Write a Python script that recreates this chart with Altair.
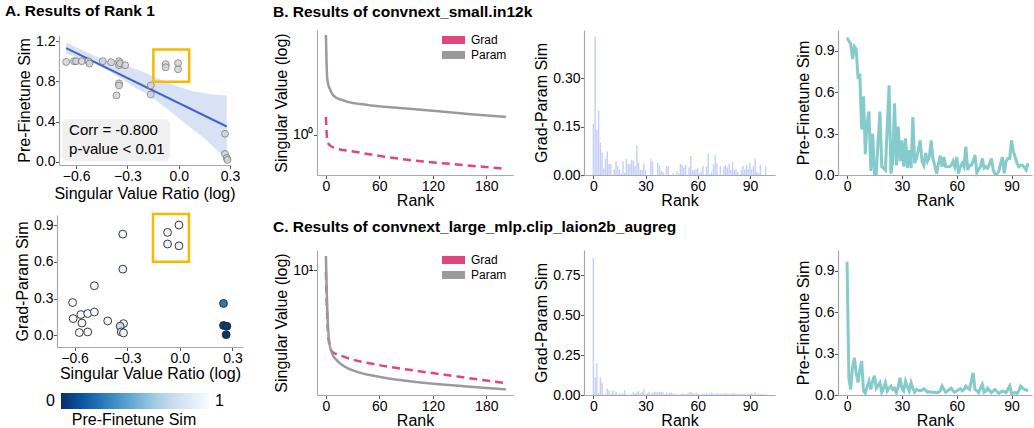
import altair as alt
import pandas as pd

FONT = "Liberation Sans"
PINK = "#e0467d"
GRAY = "#9a9a9a"
BAR = "#c4cefa"
TEAL = "#7ec8c8"
YELLOW = "#f5b900"
REG = "#3d66c9"
BAND = "#d5def3"
W, H = 1034, 428

# matplotlib "Blues", reversed so that 0 is dark and 1 is white
blues = ["#f7fbff", "#deebf7", "#c6dbef", "#9ecae1", "#6baed6",
         "#4292c6", "#2171b5", "#08519c", "#08306b"]
cmap_colors = blues[::-1]
cmap_stops = [0, 0.125, 0.25, 0.375, 0.5, 0.625, 0.75, 0.875, 1.0]

series_names = ["Grad", "Param"]
series_colors = [PINK, GRAY]

# ---------------- Panel A: rank-1 results ----------------
a_top_ratio = [-0.658, -0.612, -0.600, -0.567, -0.528, -0.522, -0.444, -0.395,
               -0.349, -0.349, -0.343, -0.313, -0.349, -0.349, -0.364, -0.163,
               -0.163, -0.076, -0.076, -0.004, -0.004, 0.271, 0.271, 0.281, 0.285]
a_top_pre = [0.993, 1.0, 1.0, 1.0, 1.0, 0.977, 1.0, 0.99,
             1.0, 0.96, 0.98, 0.96, 0.78, 0.76, 0.66, 0.76,
             0.67, 0.97, 0.94, 0.98, 0.92, 0.28, 0.08, 0.04, 0.02]

reg_ratio = [-0.658, 0.281]
reg_pre = [1.13, 0.352]
band_ratio = [-0.658, -0.46, -0.265, -0.148, -0.07, 0.047, 0.125, 0.281]
band_hi = [1.19, 1.03, 0.93, 0.85, 0.79, 0.72, 0.69, 0.66]
band_lo = [1.075, 0.95, 0.75, 0.63, 0.53, 0.37, 0.27, 0.02]

a_bot_ratio = [-0.611, -0.608, -0.564, -0.558, -0.573, -0.525, -0.525, -0.487,
               -0.487, -0.411, -0.325, -0.325, -0.321, -0.340, -0.334, -0.321,
               -0.070, -0.005, -0.070, -0.005, 0.249, 0.249, 0.268, 0.264]
a_bot_gp = [0.267, 0.136, 0.169, 0.100, 0.022, 0.177, 0.027, 0.190,
            0.404, 0.117, 0.826, 0.540, 0.095, 0.074, 0.027, 0.019,
            0.840, 0.900, 0.745, 0.730, 0.260, 0.080, 0.074, 0.005]
a_bot_pre = [1.0, 0.99, 1.0, 0.98, 1.0, 1.0, 0.99, 1.0,
             0.98, 0.97, 0.96, 0.92, 0.98, 0.76, 0.85, 0.96,
             0.97, 0.98, 0.94, 0.92, 0.28, 0.08, 0.04, 0.02]

stat_lines = ["Corr = -0.800", "p-value < 0.01"]

# ---------------- Panels B / C ----------------
b_param_rank = [0, 1, 2, 5, 9, 21, 47, 85, 123, 160, 202]
b_param_sv = [4.64, 2.71, 2.27, 1.995, 1.82, 1.69, 1.585, 1.51, 1.445, 1.38, 1.32]
b_grad_rank = [0, 1, 2, 4, 9, 32, 66, 104, 142, 202]
b_grad_sv = [1.32, 1.0, 0.90, 0.858, 0.823, 0.774, 0.717, 0.67, 0.64, 0.594]

c_param_rank = [0, 1, 2, 4, 7, 12, 20, 35, 60, 100, 150, 202]
c_param_sv = [11.96, 7.42, 5.27, 3.92, 3.44, 3.16, 2.93, 2.72, 2.55, 2.39, 2.27, 2.17]
c_grad_rank = [0, 1, 2, 4, 7, 20, 60, 100, 150, 202]
c_grad_sv = [9.79, 6.53, 4.84, 3.83, 3.52, 3.30, 2.96, 2.76, 2.55, 2.35]

ranks = list(range(100))

b_gp = [0.158, 0.43, 0.14, 0.20, 0.10, 0.07, 0.02, 0.05, 0.073, 0.034,
        0.034, 0.0, 0.018, 0.043, 0.028, 0.018, 0.005, 0.043, 0.007, 0.05,
        0.034, 0.033, 0.047, 0.045, 0.028, 0.092, 0.039, 0.016, 0.016, 0.036,
        0.016, 0.0, 0.0, 0.05, 0.042, 0.0, 0.0, 0.038, 0.029, 0.013,
        0.01, 0.0, 0.029, 0.027, 0.0, 0.0, 0.008, 0.0, 0.012, 0.005,
        0.035, 0.032, 0.023, 0.031, 0.0, 0.023, 0.059, 0.016, 0.015, 0.018,
        0.023, 0.005, 0.01, 0.028, 0.0, 0.026, 0.067, 0.003, 0.01, 0.033,
        0.062, 0.036, 0.0, 0.028, 0.0, 0.026, 0.031, 0.024, 0.036, 0.016,
        0.041, 0.016, 0.018, 0.01, 0.0, 0.016, 0.028, 0.018, 0.032, 0.018,
        0.038, 0.018, 0.028, 0.05, 0.01, 0.005, 0.031, 0.0, 0.0, 0.027]

c_gp = [0.86, 0.11, 0.20, 0.01, 0.11, 0.077, 0.004, 0.004, 0.04, 0.03,
        0.01, 0.03, 0.01, 0.02, 0.005, 0.01, 0.005, 0.01, 0.03, 0.005,
        0.0, 0.0, 0.005, 0.02, 0.01, 0.02, 0.025, 0.01, 0.02, 0.04,
        0.005, 0.01, 0.02, 0.005, 0.015, 0.02, 0.02, 0.015, 0.02, 0.02,
        0.018, 0.005, 0.015, 0.01, 0.015, 0.015, 0.005, 0.01, 0.005, 0.003,
        0.005, 0.01, 0.01, 0.005, 0.01, 0.015, 0.02, 0.012, 0.005, 0.015,
        0.01, 0.005, 0.003, 0.01, 0.008, 0.01, 0.005, 0.01, 0.015, 0.008,
        0.005, 0.012, 0.008, 0.01, 0.006, 0.01, 0.012, 0.008, 0.01, 0.007,
        0.012, 0.01, 0.008, 0.006, 0.01, 0.005, 0.008, 0.01, 0.005, 0.008,
        0.006, 0.01, 0.005, 0.015, 0.005, 0.008, 0.004, 0.006, 0.005, 0.007]

b_pre = [0.995, 0.97, 0.95, 0.84, 0.93, 0.91, 0.71, 0.72, 0.33, 0.57,
         0.15, 0.38, 0.46, 0.03, 0.30, 0.01, 0.01, 0.25, 0.46, 0.06,
         0.05, 0.036, 0.35, 0.65, 0.01, 0.10, 0.52, 0.07, 0.35, 0.10,
         0.25, 0.06, 0.265, 0.05, 0.18, 0.05, 0.42, 0.085, 0.12, 0.18,
         0.25, 0.10, 0.07, 0.16, 0.10, 0.13, 0.25, 0.12, 0.07, 0.01,
         0.08, 0.14, 0.06, 0.13, 0.06, 0.06, 0.06, 0.07, 0.10, 0.06,
         0.13, 0.01, 0.06, 0.085, 0.06, 0.205, 0.036, 0.07, 0.07, 0.10,
         0.145, 0.017, 0.04, 0.06, 0.12, 0.05, 0.06, 0.05, 0.08, 0.12,
         0.036, 0.007, 0.007, 0.024, 0.08, 0.13, 0.012, 0.10, 0.12, 0.12,
         0.25, 0.17, 0.13, 0.085, 0.06, 0.07, 0.07, 0.055, 0.036, 0.085]

c_pre = [0.965, 0.12, 0.04, 0.20, 0.27, 0.16, 0.09, 0.18, 0.245, 0.03,
         0.012, 0.06, 0.10, 0.04, 0.10, 0.14, 0.05, 0.07, 0.09, 0.02,
         0.05, 0.09, 0.03, 0.05, 0.065, 0.04, 0.05, 0.017, 0.06, 0.125,
         0.05, 0.03, 0.10, 0.06, 0.03, 0.09, 0.05, 0.02, 0.04, 0.035,
         0.03, 0.035, 0.045, 0.035, 0.02, 0.025, 0.02, 0.02, 0.02, 0.017,
         0.02, 0.03, 0.065, 0.04, 0.02, 0.03, 0.04, 0.05, 0.03, 0.02,
         0.03, 0.04, 0.045, 0.03, 0.04, 0.065, 0.05, 0.04, 0.10, 0.16,
         0.04, 0.03, 0.017, 0.05, 0.077, 0.02, 0.03, 0.05, 0.03, 0.017,
         0.03, 0.04, 0.025, 0.012, 0.02, 0.03, 0.025, 0.017, 0.04, 0.065,
         0.012, 0.015, 0.017, 0.012, 0.03, 0.065, 0.05, 0.04, 0.035, 0.03]

one = pd.DataFrame({"k": [0]})


# Each panel owns its own x/y scales; the scale ranges place the panel on the page
# and the axis offsets pin the spines to the panel's left and bottom edges.
def make_x(xr, bottom, domain, ticks, title, fmt, stype="linear", title_pad=3):
    def enc(field):
        return alt.X(field, type="quantitative",
                     scale=alt.Scale(type=stype, domain=domain, range=list(xr), nice=False, zero=False),
                     axis=alt.Axis(values=ticks, title=title, format=fmt, orient="bottom",
                                   offset=bottom - H, titlePadding=title_pad))
    return enc


def make_y(yr, left, domain, ticks, title, fmt, stype="linear", label_expr=None):
    kw = dict(values=ticks, title=title, format=fmt, orient="left", offset=-left)
    if label_expr is not None:
        kw["labelExpr"] = label_expr
    def enc(field):
        return alt.Y(field, type="quantitative",
                     scale=alt.Scale(type=stype, domain=domain, range=list(yr), nice=False, zero=False),
                     axis=alt.Axis(**kw))
    return enc


def heading(text, x, y):
    return alt.Chart(one).mark_text(align="left", baseline="middle", fontSize=15.5,
                                    fontWeight="bold", color="black").encode(
        x=alt.value(x), y=alt.value(y), text=alt.value(text))


def highlight(xs, ys, X, Y):
    df = pd.DataFrame({"x1": [xs[0]], "x2": [xs[1]], "y1": [ys[0]], "y2": [ys[1]]})
    return alt.Chart(df).mark_rect(fillOpacity=0, stroke=YELLOW, strokeWidth=2.5).encode(
        x=X("x1"), x2="x2:Q", y=Y("y1"), y2="y2:Q")


# ----- A top: pre-finetune similarity vs singular value ratio -----
AX = make_x((59, 230), 165, [-0.70, 0.30], [-0.6, -0.3, 0.0, 0.3], "Singular Value Ratio (log)", ".1f",
            title_pad=2)
AY = make_y((165, 35), 59, [-0.03, 1.26], [0.0, 0.4, 0.8, 1.2], "Pre-Finetune Sim", ".1f")

band_df = pd.DataFrame({"ratio": band_ratio, "lo": band_lo, "hi": band_hi})
reg_df = pd.DataFrame({"ratio": reg_ratio, "pre": reg_pre})
top_df = pd.DataFrame({"ratio": a_top_ratio, "pre": a_top_pre})
stat_box = pd.DataFrame({"x1": [-0.684], "x2": [-0.05], "y1": [0.007], "y2": [0.424]})
stat_txt = pd.DataFrame({"ratio": [-0.641, -0.641], "pre": [0.3125, 0.132], "t": stat_lines})

a_top = alt.layer(
    alt.Chart(band_df).mark_area(color=BAND, opacity=0.9, interpolate="monotone").encode(
        x=AX("ratio"), y=AY("lo"), y2="hi:Q"),
    alt.Chart(reg_df).mark_line(color=REG, strokeWidth=2).encode(x=AX("ratio"), y=AY("pre")),
    alt.Chart(stat_box).mark_rect(cornerRadius=6, fill="#eeeeee", opacity=0.9).encode(
        x=AX("x1"), x2="x2:Q", y=AY("y1"), y2="y2:Q"),
    alt.Chart(top_df).mark_circle(size=48, fill="#d2d2d2", stroke="#7a7a7a",
                                  strokeWidth=1, opacity=0.8).encode(x=AX("ratio"), y=AY("pre")),
    alt.Chart(stat_txt).mark_text(align="left", baseline="middle", fontSize=15, color="black").encode(
        x=AX("ratio"), y=AY("pre"), text="t:N"),
    highlight([-0.148, 0.061], [0.796, 1.115], AX, AY),
)

# ----- A bottom: grad-param similarity coloured by pre-finetune similarity -----
BX = make_x((57, 243), 347, [-0.70, 0.36], [-0.6, -0.3, 0.0, 0.3], "Singular Value Ratio (log)", ".1f",
            title_pad=0)
BY = make_y((347, 215), 57, [-0.096, 0.982], [0.0, 0.3, 0.6, 0.9], "Grad-Param Sim", ".1f")

bot_df = pd.DataFrame({"ratio": a_bot_ratio, "gp": a_bot_gp, "pre": a_bot_pre})
a_bot = alt.layer(
    alt.Chart(bot_df).mark_circle(size=62, stroke="#222222", strokeWidth=0.9, opacity=1).encode(
        x=BX("ratio"), y=BY("gp"),
        fill=alt.Fill("pre:Q", scale=alt.Scale(domain=cmap_stops, range=cmap_colors), legend=None)),
    highlight([-0.153, 0.052], [0.60, 0.99], BX, BY),
)

# ----- colour bar -----
cb_df = pd.DataFrame({"lo": [0.0], "hi": [1.0]})
cb_x = alt.Scale(domain=[0, 1], range=[61, 209])
grad = alt.Gradient(gradient="linear", x1=0, x2=1, y1=0, y2=0,
                    stops=[alt.GradientStop(color=c, offset=o) for c, o in zip(cmap_colors, cmap_stops)])
cbar = alt.layer(
    alt.Chart(cb_df).mark_rect(color=grad).encode(
        x=alt.X("lo:Q", scale=cb_x, axis=None), x2="hi:Q", y=alt.value(393), y2=alt.value(409)),
    alt.Chart(cb_df).mark_text(align="right", baseline="middle", dx=-6, fontSize=16, color="black").encode(
        x=alt.X("lo:Q", scale=cb_x, axis=None), y=alt.value(401), text=alt.value("0")),
    alt.Chart(cb_df).mark_text(align="left", baseline="middle", dx=6, fontSize=16, color="black").encode(
        x=alt.X("hi:Q", scale=cb_x, axis=None), y=alt.value(401), text=alt.value("1")),
    alt.Chart(one).mark_text(align="center", baseline="middle", fontSize=16, color="black").encode(
        x=alt.value(134), y=alt.value(420), text=alt.value("Pre-Finetune Sim")),
)

series_color = alt.Scale(domain=series_names, range=series_colors)


# ----- singular value spectra -----
def spectrum(grad_rank, grad_sv, param_rank, param_sv, top, domain, tick, label):
    bottom = top + 145
    X = make_x((317, 513), bottom, [-10, 210], [0, 60, 120, 180], "Rank", "d", title_pad=-1)
    Y = make_y((bottom, top), 317, domain, [tick], "Singular Value (log)", "", stype="log",
               label_expr="'" + label + "'")
    df = pd.DataFrame({
        "rank": grad_rank + param_rank,
        "sv": grad_sv + param_sv,
        "series": ["Grad"] * len(grad_rank) + ["Param"] * len(param_rank),
    })
    return alt.Chart(df).mark_line(strokeWidth=2.5, interpolate="monotone").encode(
        x=X("rank"), y=Y("sv"),
        color=alt.Color("series:N", scale=series_color, legend=None),
        strokeDash=alt.condition("datum.series == 'Grad'", alt.value([8, 5]), alt.value([1, 0])),
    )


def key(top):
    # swatch + name for each series, stacked on a point scale
    df = pd.DataFrame({"series": series_names})
    ky = alt.Y("series:N", scale=alt.Scale(type="point", domain=series_names,
                                           range=[top + 10, top + 25], padding=0), axis=None)
    return alt.layer(
        alt.Chart(df).mark_rule(strokeWidth=8, strokeCap="butt").encode(
            x=alt.value(442), x2=alt.value(465), y=ky,
            color=alt.Color("series:N", scale=series_color, legend=None)),
        alt.Chart(df).mark_text(align="left", baseline="middle", fontSize=12, color="black").encode(
            x=alt.value(471), y=ky, text="series:N"),
    )


def gp_bars(values, top, domain, ticks):
    bottom = top + 145
    X = make_x((584, 775), bottom, [-5.4, 104.4], [0, 30, 60, 90], "Rank", "d", title_pad=-1)
    Y = make_y((bottom, top), 584, domain, ticks, "Grad-Param Sim", ".2f")
    df = pd.DataFrame({"rank": ranks, "gp": values})
    return alt.Chart(df).transform_calculate(
        r0="datum.rank - 0.4", r1="datum.rank + 0.4", base="0"
    ).mark_rect(color=BAR).encode(x=X("r0"), x2="r1:Q", y=Y("gp"), y2="base:Q")


def pre_line(values, top):
    bottom = top + 145
    X = make_x((838, 1032), bottom, [-4.95, 101.2], [0, 30, 60, 90], "Rank", "d", title_pad=-1)
    Y = make_y((bottom, top), 838, [0, 1.05], [0.0, 0.3, 0.6, 0.9], "Pre-Finetune Sim", ".1f")
    df = pd.DataFrame({"rank": ranks, "pre": values})
    return alt.Chart(df).mark_line(color=TEAL, strokeWidth=3, opacity=0.95).encode(
        x=X("rank"), y=Y("pre"))


b1 = spectrum(b_grad_rank, b_grad_sv, b_param_rank, b_param_sv, 30, [0.541, 5.01], 1, "10⁰")
c1 = spectrum(c_grad_rank, c_grad_sv, c_param_rank, c_param_sv, 250, [2.02, 12.92], 10, "10¹")
b2 = gp_bars(b_gp, 30, [0, 0.45], [0.0, 0.15, 0.30])
c2 = gp_bars(c_gp, 250, [0, 0.91], [0.0, 0.25, 0.5, 0.75])
b3 = pre_line(b_pre, 30)
c3 = pre_line(c_pre, 250)

headings = alt.layer(
    heading("A. Results of Rank 1", 5, 11),
    heading("B. Results of convnext_small.in12k", 273, 12),
    heading("C. Results of convnext_large_mlp.clip_laion2b_augreg", 273, 227),
)

chart = alt.layer(
    a_top, a_bot, cbar, b1, key(30), b2, b3, c1, key(250), c2, c3, headings
).resolve_scale(
    x="independent", y="independent", color="independent", fill="independent"
).resolve_axis(
    x="independent", y="independent"
).properties(
    width=W, height=H, autosize=alt.AutoSizeParams(type="none"), padding=0
).configure_view(stroke=None).configure_axis(
    domainColor="#a8a8a8", domainWidth=1.2, tickColor="#555555", tickSize=3.5, tickWidth=1,
    labelFont=FONT, titleFont=FONT, labelFontSize=14, titleFontSize=16,
    titleFontWeight="normal", labelColor="black", titleColor="black", grid=False,
    labelPadding=0.5, titlePadding=3, labelFlush=False, labelOverlap=False,
).configure_text(font=FONT)

chart.save("out.html", embed_options={"renderer": "svg", "actions": False})
